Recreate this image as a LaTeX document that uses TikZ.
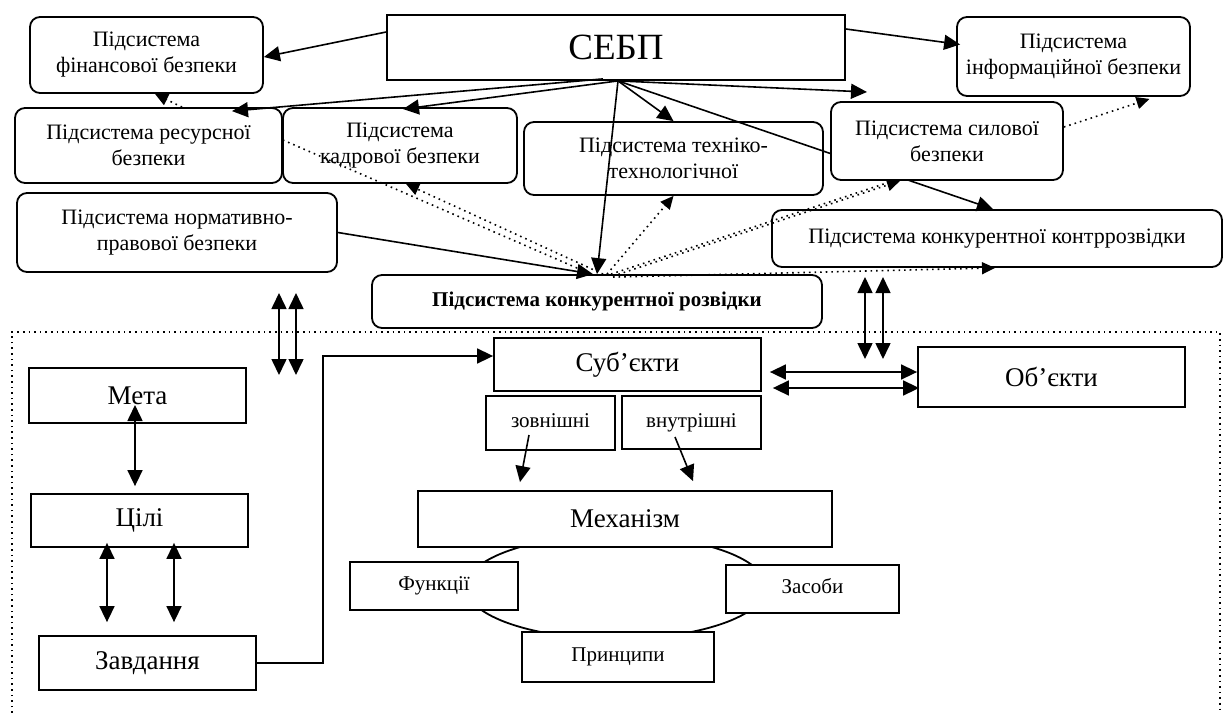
\documentclass[tikz,border=0pt]{standalone}
\usepackage{fontspec}
\setmainfont{Liberation Serif}
\usetikzlibrary{arrows.meta,shapes.geometric}

\begin{document}
\begin{tikzpicture}[x=0.5pt,y=-0.5pt]
\tikzset{ >={Triangle[length=8pt,width=7.5pt]}, inner sep=0pt,
  sub/.style={draw, rounded corners=5pt, fill=white, line width=0.9pt, align=center, font=\fontsize{11}{13}\selectfont},
  blk/.style={draw, fill=white, line width=0.9pt, font=\fontsize{13.5}{15}\selectfont},
  sblk/.style={blk, text height=0.68em, text depth=0.22em, font=\fontsize{10.5}{12}\selectfont},
  arr/.style={->, line width=0.8pt},
  dblarr/.style={<->, line width=0.8pt},
  dotline/.style={dotted, line width=0.8pt},
  dotarr/.style={dotline, -{Triangle[length=6.5pt,width=6pt]}},
}
\useasboundingbox (0,0) rectangle (1223,713);

% dotted frame of the lower part
\draw [dotline] (12,713) -- (12,332) -- (1220,332) -- (1220,713);

\node [blk, minimum width=229pt, minimum height=32.5pt, font=\fontsize{18.5}{20}\selectfont] (SEBP) at (616,47.5) {СЕБП};
\node [sub, minimum width=225pt, minimum height=28.5pt] (KONTR) at (997,238.5) {Підсистема конкурентної контррозвідки};
\coordinate (FAN) at ([xshift=1pt,yshift=0pt]SEBP.south);

\node [sub, minimum width=116.5pt, minimum height=38pt]   (FIN)   at (146.5,55)    {Підсистема\\фінансової безпеки};
\node [sub, minimum width=133.5pt, minimum height=37.5pt] (RES)   at (148.5,145.5) {Підсистема ресурсної\\безпеки};
\node [sub, minimum width=117pt,   minimum height=37.5pt] (KADR)  at (400,145.5)   {Підсистема\\кадрової безпеки};
\node [sub, minimum width=149.5pt, minimum height=36.5pt] (TECH)  at (673.5,158.5) {Підсистема техніко-\\технологічної};

% this one runs under the box of the power subsystem
\draw [arr] (FAN) -- ([xshift=-2pt]KONTR.north);

\node [sub, minimum width=116pt,   minimum height=39pt]   (SYL)   at (947,141)     {Підсистема силової\\безпеки};
\node [sub, minimum width=116.5pt, minimum height=39.5pt] (INF)   at (1073.5,56.5) {Підсистема\\інформаційної безпеки};
\node [sub, minimum width=160pt,   minimum height=39.5pt] (NORM)  at (177,232.5)   {Підсистема нормативно-\\правової безпеки};
\node [sub, minimum width=225pt,   minimum height=26.5pt, font=\fontsize{10.5}{12}\selectfont\bfseries] (ROZV) at (597,301.5) {Підсистема конкурентної розвідки};

\coordinate (SYLTOP) at (867,92);

% arrows from SEBP
\draw [arr] ([yshift=7.75pt]SEBP.west) -- ([yshift=-1pt]FIN.east);
\draw [arr] ([xshift=-6.5pt,yshift=1pt]SEBP.south) -- ([xshift=41.75pt,yshift=-2pt]RES.north);
\draw [arr] (FAN) -- ([xshift=1.5pt,yshift=-1pt]KADR.north);
\draw [arr] (FAN) -- (TECH.north);
\draw [arr] (FAN) -- (ROZV.north);
\draw [arr] (FAN) -- (SYLTOP);
\draw [arr] ([yshift=9.25pt]SEBP.east) -- ([xshift=2pt,yshift=6pt]INF.west);
\draw [arr] (NORM.east) -- ([xshift=-2pt]ROZV.north);

% dotted links
\draw [dotarr] ([xshift=16.75pt]RES.north) -- ([xshift=4.25pt]FIN.south);
\draw [dotline] ([yshift=2.75pt]RES.east) -- ([xshift=-3pt]ROZV.north);
\draw [dotarr] ([xshift=3pt]ROZV.north) -- ([xshift=3pt]KADR.south);
\draw [dotarr] ([xshift=5pt]ROZV.north) -- (TECH.south);
\draw [dotline] ([xshift=7pt]ROZV.north) -- ([xshift=-27pt]SYL.south);
\draw [dotarr] ([xshift=8pt,yshift=-1pt]ROZV.north) -- ([xshift=-23.5pt]SYL.south);
\draw [dotarr] ([xshift=8pt,yshift=-1.5pt]ROZV.north) -- ([xshift=-1pt]KONTR.south);
\draw [dotarr] ([yshift=7pt]SYL.east) -- ([xshift=38pt,yshift=-1pt]INF.south);

% lower part
\node [draw, ellipse, line width=0.9pt, minimum width=150pt, minimum height=52pt] (CIRC) at (616,587) {};

\node [blk, minimum width=108.5pt, minimum height=27.5pt] (META)  at (137.5,395.5) {Мета};
\node [blk, minimum width=108.5pt, minimum height=26.5pt] (TSILI) at (139.5,520.5) {Цілі};
\node [blk, minimum width=108.5pt, minimum height=27pt]   (ZAVD)  at (147.5,663)   {Завдання};
\node [blk, minimum width=133.5pt, minimum height=26.5pt] (SUBJ)  at (627.5,364.5) {Суб’єкти};
\node [blk, minimum width=133.5pt, minimum height=30pt]   (OBJ)   at (1051.5,377)  {Об’єкти};
\node [sblk, minimum width=64.5pt, minimum height=27pt]   (ZOVN)  at (550.5,423)   {зовнішні};
\node [sblk, minimum width=69.5pt, minimum height=26.5pt] (VNUTR) at (691.5,422.5) {внутрішні};
\node [blk, minimum width=207pt,   minimum height=28pt]   (MECH)  at (625,519)     {Механізм};
\node [sblk, minimum width=84pt,   minimum height=24pt]   (FUNK)  at (434,586)     {Функції};
\node [sblk, minimum width=86.5pt, minimum height=24pt]   (ZAS)   at (812.5,589)   {Засоби};
\node [sblk, minimum width=96pt,   minimum height=25pt]   (PRYN)  at (618,657)     {Принципи};

\coordinate (L1a) at (279,293); \coordinate (L1b) at (279,375);
\coordinate (L2a) at (296,293); \coordinate (L2b) at (296,375);
\coordinate (R1a) at (865,277); \coordinate (R1b) at (865,359);
\coordinate (R2a) at (883,277); \coordinate (R2b) at (883,359);

\draw [dblarr] (L1a) -- (L1b);
\draw [dblarr] (L2a) -- (L2b);
\draw [dblarr] (R1a) -- (R1b);
\draw [dblarr] (R2a) -- (R2b);

\draw [dblarr] ([xshift=4pt,yshift=-3.75pt]SUBJ.east) -- ([yshift=2.5pt]OBJ.west);
\draw [dblarr] ([xshift=5.5pt,yshift=-11.75pt]SUBJ.east) -- ([xshift=1pt,yshift=-5.5pt]OBJ.west);

\draw [dblarr] ([xshift=-1.25pt,yshift=-4.75pt]META.center) -- ([xshift=-2.25pt,yshift=3.5pt]TSILI.north);
\draw [dblarr] ([xshift=-16.25pt,yshift=2.5pt]TSILI.south) -- ([xshift=-20.25pt,yshift=6.5pt]ZAVD.north);
\draw [dblarr] ([xshift=17.25pt,yshift=2.5pt]TSILI.south) -- ([xshift=13.25pt,yshift=6.5pt]ZAVD.north);

\draw [arr] (ZAVD.east) -- ++(33pt,0) |- ([yshift=4.25pt]SUBJ.west);

\draw [arr] ([xshift=-10.75pt,yshift=-6pt]ZOVN.center) -- ([xshift=-52.5pt,yshift=4pt]MECH.north);
\draw [arr] ([xshift=-8.25pt,yshift=-7.25pt]VNUTR.center) -- ([xshift=34pt,yshift=4.5pt]MECH.north);
\end{tikzpicture}
\end{document}
